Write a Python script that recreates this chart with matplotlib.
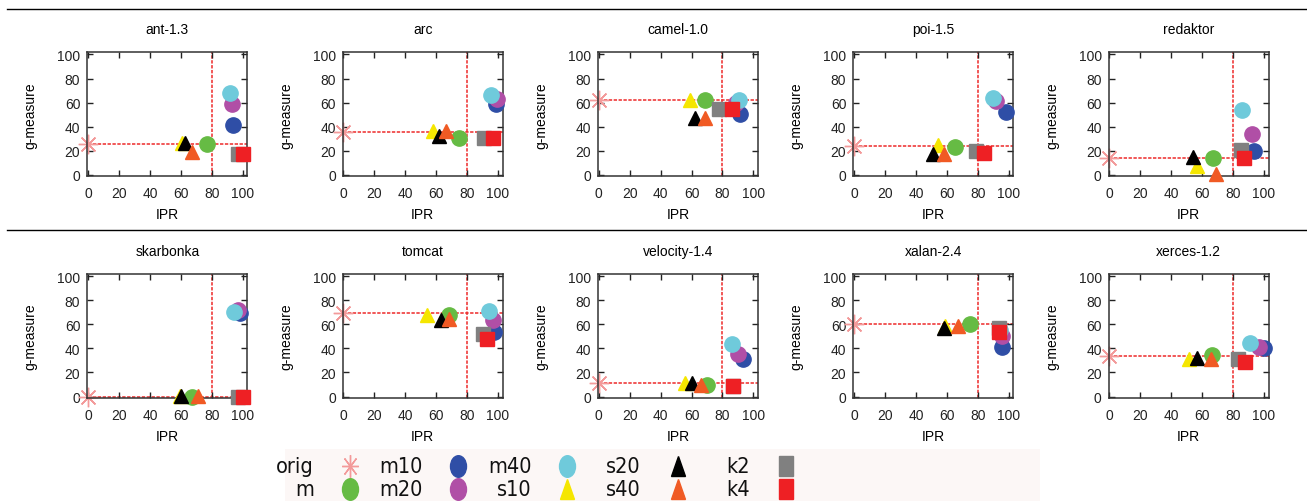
import matplotlib
matplotlib.use('Agg')
import matplotlib.pyplot as plt
from matplotlib import font_manager
from matplotlib.markers import MarkerStyle
from matplotlib.transforms import Affine2D

plt.rcParams['font.family'] = ['Liberation Sans', 'DejaVu Sans']

# projects, one panel each
projects = ['ant-1.3', 'arc', 'camel-1.0', 'poi-1.5', 'redaktor',
            'skarbonka', 'tomcat', 'velocity-1.4', 'xalan-2.4', 'xerces-1.2']

# g-measure of the original data (drawn at IPR = 0)
orig_gm = [26, 36, 62, 24, 14, 0, 69, 11, 60, 34]

# IPR / g-measure per method
m_ipr = [77, 75, 69, 65, 67, 67.5, 68, 70, 75, 66.5]
m_gm = [26, 31, 62, 23, 14, 0, 67.5, 9.5, 60, 34.5]
m10_ipr = [94, 98.5, 91.5, 98, 93.5, 98, 97.5, 93, 95.5, 100]
m10_gm = [41.5, 58.5, 50.5, 52, 19.5, 69.5, 54, 31, 41, 40]
m20_ipr = [93, 99, 88.5, 92, 92, 97, 97, 90, 96, 97]
m20_gm = [59, 63, 60, 61, 34, 71.5, 64, 35, 50, 41.5]
m40_ipr = [92, 95.5, 91, 90, 86, 94.5, 94, 86, 94.5, 91]
m40_gm = [68, 66, 62, 64, 54, 70, 71, 44, 55.5, 44.5]
s10_ipr = [61, 58, 59, 54, 57, 59.5, 54, 55.5, 58.5, 51.5]
s10_gm = [26.5, 36.5, 62.5, 25, 7.5, 0.5, 68, 11.5, 59, 31.5]
s20_ipr = [63, 61.5, 62.5, 51, 54, 60, 63, 60.5, 58, 57]
s20_gm = [26.5, 32, 47.5, 17.5, 15, 0.5, 63.5, 11, 57, 32]
s40_ipr = [67, 66, 69, 58, 69, 71, 68, 66, 67, 66]
s40_gm = [19, 36.5, 47.5, 17, 0.5, 0.5, 64.5, 10, 59, 31.5]
k2_ipr = [97, 91, 77.5, 79, 85, 97, 90.5, 87, 94, 83]
k2_gm = [17.5, 31, 54.5, 20, 20.5, 0, 52, 9, 57, 31]
k4_ipr = [100, 96.5, 86.5, 84, 87, 100, 93, 87, 94, 87.5]
k4_gm = [17.5, 31, 54.5, 18, 14, 0, 48, 9, 53.5, 29]

ipr_threshold = 80
ticks = [0, 20, 40, 60, 80, 100]

# (name, x, y, marker, colour) in drawing order
series = [
    ('m',   m_ipr,   m_gm,   'o', '#66bb44'),
    ('m10', m10_ipr, m10_gm, 'o', '#2f4ea6'),
    ('m20', m20_ipr, m20_gm, 'o', '#b04fa6'),
    ('m40', m40_ipr, m40_gm, 'o', '#6fcadb'),
    ('s10', s10_ipr, s10_gm, '^', '#f5e600'),
    ('s20', s20_ipr, s20_gm, '^', '#000000'),
    ('s40', s40_ipr, s40_gm, '^', '#f05a24'),
    ('k2',  k2_ipr,  k2_gm,  's', '#808080'),
    ('k4',  k4_ipr,  k4_gm,  's', '#ee2024'),
]
orig_col = '#f39a9a'
line_col = '#ee2a2a'

# narrow font for the legend if one is installed
narrow = None
for f in font_manager.fontManager.ttflist:
    low = f.fname.lower()
    if ('narrow' in low or 'condensed' in low) and 'bold' not in low \
            and 'italic' not in low and 'oblique' not in low and 'sans' in low:
        narrow = f.fname
        break
if narrow:
    leg_font = font_manager.FontProperties(fname=narrow, size=15.5)
else:
    leg_font = font_manager.FontProperties(family='Liberation Sans', size=12.5)

W, H = 1307, 502
fig = plt.figure(figsize=(W / 100, H / 100), dpi=100)

lefts = [87.3, 342.7, 598.0, 853.3, 1108.6]
tops = [53.3, 275.0]
aw, ah = 160, 124

for i, name in enumerate(projects):
    r, c = divmod(i, 5)
    ax = fig.add_axes([lefts[c] / W, 1 - (tops[r] + ah) / H, aw / W, ah / H])
    ax.set_xlim(-0.5, 103)
    ax.set_ylim(-1.2, 101.8)
    ax.axhline(orig_gm[i], xmin=0.5 / 103.5, color=line_col, lw=1.1, ls=(0, (2.2, 1.0)), zorder=1)
    ax.axvline(ipr_threshold, color=line_col, lw=1.1, ls=(0, (2.2, 1.0)), zorder=1)
    ax.plot([0], [orig_gm[i]], marker=(8, 2, 0), ms=14, mew=1.0, color=orig_col,
            ls='none', clip_on=False, zorder=2)
    for lab, xs, ys, mk, col in series:
        ms = 11 if mk == 'o' else 10.5
        ax.plot([xs[i]], [ys[i]], marker=mk, ms=ms, color=col, mec=col, ls='none',
                clip_on=False, zorder=3)
    ax.set_xticks(ticks)
    ax.set_yticks(ticks)
    ax.tick_params(direction='in', length=4, width=1, top=True, right=True,
                   labelsize=10, colors='#222222', pad=5)
    ax.tick_params(axis='x', pad=7)
    for sp in ax.spines.values():
        sp.set_linewidth(1.1)
        sp.set_color('#333333')
    ax.set_title(name, fontsize=10, pad=14)
    ax.set_xlabel('IPR', fontsize=10, labelpad=5)
    ax.set_ylabel('g-measure', fontsize=10, labelpad=14)

# separator lines
fig.add_artist(plt.Line2D([7 / W, 1], [1 - 9.5 / H, 1 - 9.5 / H], color='black', lw=1))
fig.add_artist(plt.Line2D([7 / W, 1], [1 - 230.7 / H, 1 - 230.7 / H], color='black', lw=1))

# legend block
lx0, lw_, lh = 285, 755, 52
lax = fig.add_axes([lx0 / W, 0, lw_ / W, lh / H])
lax.set_xlim(0, lw_)
lax.set_ylim(lh, 0)
lax.set_facecolor('#fcf7f6')
for sp in lax.spines.values():
    sp.set_visible(False)
lax.set_xticks([])
lax.set_yticks([])

stretch = Affine2D().scale(1, 1.35)
entries = [('orig', (8, 2, 0), orig_col)] + [(s[0], s[3], s[4]) for s in series]
text_x = [29, 138, 247, 356, 465]
mark_x = [65, 173, 282, 393, 501]
rows_y = [17, 40]
for k, (lab, mk, col) in enumerate(entries):
    c, r = divmod(k, 2)
    lax.text(text_x[c], rows_y[r], lab, ha='right', va='center',
             fontproperties=leg_font, color='#111111')
    if mk == (8, 2, 0):
        lax.plot([mark_x[c]], [rows_y[r]], marker=MarkerStyle(mk, transform=stretch),
                 ms=12, mew=1.0, color=col, ls='none')
    else:
        ms = 11.5 if mk == 'o' else 10.5
        lax.plot([mark_x[c]], [rows_y[r]], marker=MarkerStyle(mk, transform=stretch),
                 ms=ms, color=col, mec=col, ls='none')

fig.savefig('out.png', dpi=100)
